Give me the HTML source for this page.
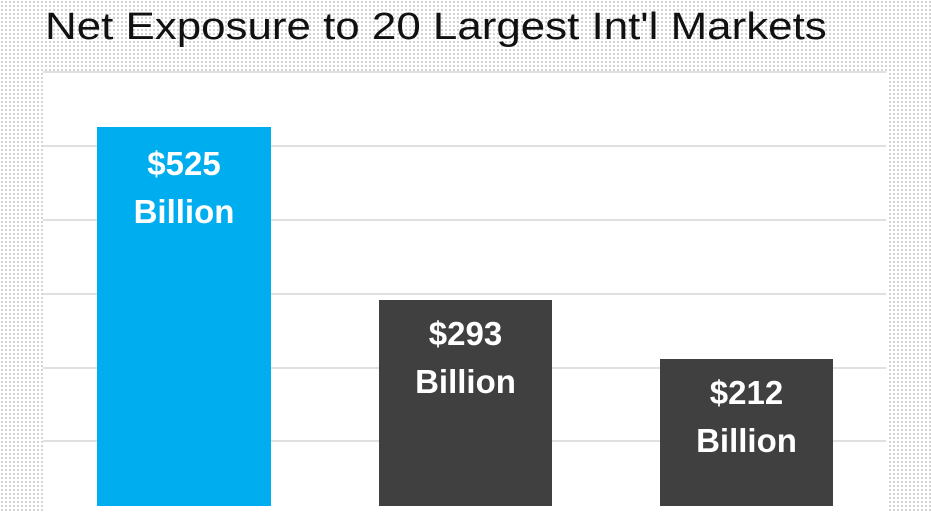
<!DOCTYPE html>
<html><head><style>
body{margin:0;width:931px;height:506px;overflow:hidden;position:relative;font-family:"Liberation Sans",sans-serif;
background-color:#fff;background-image:radial-gradient(circle,#c8c8c8 0.8px,transparent 1.1px);background-size:4px 4px}
.plot{position:absolute;left:43px;top:72px;width:846px;height:440px;background:#fff}
.g{position:absolute;left:43px;width:843px;height:2px;background:#e0e0e0}
.bar{position:absolute;bottom:0;color:#fff;font-weight:bold;font-size:33px;text-align:center;line-height:48px}
h1{position:absolute;left:45px;top:6px;margin:0;font-weight:normal;font-size:38px;color:#111;white-space:nowrap;transform-origin:0 0;transform:scaleX(1.155)}
</style></head><body>
<h1>Net Exposure to 20 Largest Int'l Markets</h1>
<div class="plot"></div>
<div class="g" style="top:71px"></div>
<div class="g" style="top:145px"></div>
<div class="g" style="top:219px"></div>
<div class="g" style="top:293px"></div>
<div class="g" style="top:367px"></div>
<div class="g" style="top:440px"></div>
<div class="bar" style="left:97px;width:174px;top:127px;background:#00aeef;padding-top:13px;box-sizing:border-box">$525<br>Billion</div>
<div class="bar" style="left:379px;width:173px;top:300px;background:#404040;padding-top:10px;box-sizing:border-box">$293<br>Billion</div>
<div class="bar" style="left:660px;width:173px;top:359px;background:#404040;padding-top:10px;box-sizing:border-box">$212<br>Billion</div>
</body></html>
